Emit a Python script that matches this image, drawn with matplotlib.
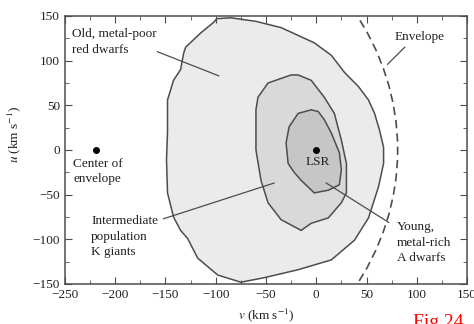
#! /bin/env python3
# plot.py
# velocity-space contours of stellar populations around the LSR

import matplotlib
matplotlib.use("Agg")
import matplotlib.pyplot as plt
import matplotlib.patches as mpatches
from matplotlib.ticker import MultipleLocator

plt.rcParams['font.family'] = ['Liberation Serif', 'DejaVu Serif']
plt.rcParams['mathtext.fontset'] = 'stix'

# outer contour: old, metal-poor red dwarfs (v, u) in km/s
old_v = [-148, -148, -142, -135, -132, -130, -115, -102, -99, -85, -60, -35,
         -2, 15, 28, 42, 52, 58, 63, 67, 67, 62, 52, 38, 15, -18, -52, -75,
         -98, -118, -128, -135, -142, -148, -149]
old_u = [20, 56, 78, 90, 108, 115, 131, 143, 147, 148, 144, 137,
         120, 106, 87, 71, 56, 41, 22, 3, -15, -41, -76, -101, -123, -134, -143, -148,
         -140, -121, -99, -90, -75, -48, -11]

# middle contour: intermediate population K giants
mid_v = [-25, -48, -58, -60, -60, -55, -48, -35, -15, -5, 12, 25, 30, 30, 25, 18, 8, -5, -18]
mid_u = [84, 75, 59, 45, 0, -34, -59, -78, -90, -82, -76, -59, -48, -15, 11, 41, 59, 78, 84]

# inner contour: young, metal-rich A dwarfs
young_v = [-5, -18, -27, -30, -28, -22, -15, -2, 12, 23, 25, 23, 15, 8, 2]
young_u = [45, 41, 26, 8, -15, -25, -34, -48, -45, -39, -22, -3, 19, 34, 43]

# envelope circle and the two marked points
env_center = (-219, 0)
env_radius = 300
lsr = (0, 0)

x_ticks = [-250, -200, -150, -100, -50, 0, 50, 100, 150]
y_ticks = [-150, -100, -50, 0, 50, 100, 150]

edge = "#4d4d4d"
txt = "#222222"

fig = plt.figure(figsize=(4.74, 3.24), dpi=100)
ax = fig.add_axes([65/474, 1 - 284/324, 402/474, 268/324])

ax.fill(old_v, old_u, facecolor="#ebebeb", edgecolor=edge, lw=1.1, zorder=1)
ax.fill(mid_v, mid_u, facecolor="#d9d9d9", edgecolor=edge, lw=1.1, zorder=2)
ax.fill(young_v, young_u, facecolor="#c6c6c6", edgecolor=edge, lw=1.1, zorder=3)

env = mpatches.Arc(env_center, 2*env_radius, 2*env_radius, theta1=-32, theta2=32,
                   color=edge, lw=1.2, linestyle=(0, (5, 3)), zorder=4)
ax.add_patch(env)

ax.plot([env_center[0]], [env_center[1]], 'o', color="black", ms=4, zorder=5)
ax.plot([lsr[0]], [lsr[1]], 'o', color="black", ms=4, zorder=5)

fs = 9.5
# labels and their leader lines
ax.text(-243, 137, "Old, metal-poor\nred dwarfs", fontsize=fs, va="top", ha="left",
        linespacing=1.5, color=txt)
ax.plot([-158, -97], [110, 83], color=edge, lw=0.9, zorder=6)

ax.text(78, 126, "Envelope", fontsize=fs, va="center", ha="left", color=txt)
ax.plot([88, 71], [115, 96], color=edge, lw=0.9, zorder=6)

ax.text(-242, -9, "Center of\nenvelope", fontsize=fs, va="top", ha="left",
        linespacing=1.35, color=txt)
ax.text(1, -7, "LSR", fontsize=fs, va="top", ha="center", zorder=6, color=txt)

ax.text(-224, -73, "Intermediate\npopulation\nK giants", fontsize=fs, va="top", ha="left",
        linespacing=1.38, color=txt)
ax.plot([-152, -42], [-77, -37], color=edge, lw=0.9, zorder=6)

ax.text(80, -80, "Young,\nmetal-rich\nA dwarfs", fontsize=fs, va="top", ha="left",
        linespacing=1.38, color=txt)
ax.plot([72, 10], [-81, -37], color=edge, lw=0.9, zorder=6)

ax.set_xlim(-250, 150)
ax.set_ylim(-150, 150)
ax.set_xticks(x_ticks)
ax.set_yticks(y_ticks)
ax.xaxis.set_minor_locator(MultipleLocator(25))
ax.yaxis.set_minor_locator(MultipleLocator(25))
ax.tick_params(which="both", direction="in", top=True, right=True,
               labelsize=fs, color=edge, labelcolor=txt)
ax.tick_params(which="major", length=5)
ax.tick_params(which="minor", length=3)
ax.set_xticklabels([str(t).replace("-", "\u2212") for t in x_ticks])
ax.set_yticklabels([str(t).replace("-", "\u2212") for t in y_ticks])
for s in ax.spines.values():
    s.set_color(edge)
    s.set_linewidth(1.1)

ax.set_xlabel(r"$v$ (km s$^{-1}$)", fontsize=fs, labelpad=4, color=txt)
ax.set_ylabel(r"$u$ (km s$^{-1}$)", fontsize=fs, color=txt)
ax.yaxis.set_label_coords(-0.105, 0.56)

fig.text(413/474, 1 - 327/324, "Fig 24", color="red", fontsize=14, ha="left", va="baseline")

fig.savefig("out.png", dpi=100)
